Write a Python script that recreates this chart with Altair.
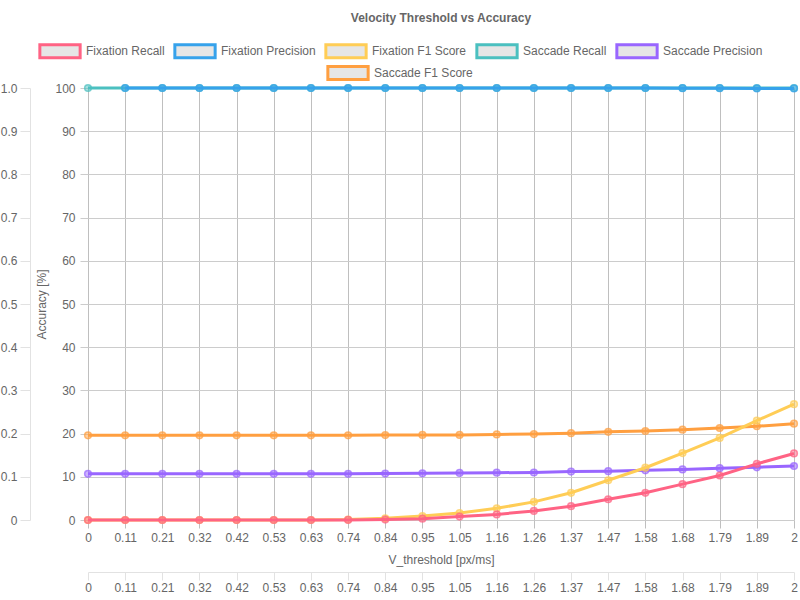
import altair as alt
import pandas as pd

x_labels = ["0", "0.11", "0.21", "0.32", "0.42", "0.53", "0.63", "0.74", "0.84", "0.95",
            "1.05", "1.16", "1.26", "1.37", "1.47", "1.58", "1.68", "1.79", "1.89", "2"]

series_names = ["Fixation Recall", "Fixation Precision", "Fixation F1 Score",
                "Saccade Recall", "Saccade Precision", "Saccade F1 Score"]
colors = ["#ff6384", "#36a2eb", "#ffcd56", "#4bc0c0", "#9966ff", "#ff9f40"]

fix_recall = [0, 0, 0, 0, 0, 0, 0, 0.02, 0.1, 0.3, 0.8, 1.3, 2.1, 3.2, 4.8, 6.3, 8.3, 10.3, 13.0, 15.4]
fix_precision = [None, 100, 100, 100, 100, 100, 100, 100, 100, 100, 100, 100, 100, 100, 100, 100, 99.95, 99.95, 99.9, 99.9]
fix_f1 = [0, 0, 0, 0, 0, 0, 0, 0.1, 0.4, 0.9, 1.6, 2.7, 4.2, 6.3, 9.2, 12.1, 15.5, 19.0, 23.0, 26.8]
sac_recall = [100] * 20
sac_precision = [10.7, 10.7, 10.7, 10.7, 10.7, 10.7, 10.7, 10.7, 10.75, 10.8, 10.9, 10.95, 11.0, 11.2, 11.3, 11.5, 11.7, 12.0, 12.2, 12.5]
sac_f1 = [19.6, 19.6, 19.6, 19.6, 19.6, 19.6, 19.6, 19.6, 19.65, 19.7, 19.7, 19.8, 19.9, 20.1, 20.4, 20.6, 20.9, 21.3, 21.7, 22.3]

left_ticks = [0, 0.1, 0.2, 0.3, 0.4, 0.5, 0.6, 0.7, 0.8, 0.9, 1.0]
main_ticks = [0, 10, 20, 30, 40, 50, 60, 70, 80, 90, 100]

all_series = [fix_recall, fix_precision, fix_f1, sac_recall, sac_precision, sac_f1]
rows = []
for name, vals in zip(series_names, all_series):
    for xl, v in zip(x_labels, vals):
        if v is not None:
            rows.append({"x": xl, "series": name, "value": v})
df = pd.DataFrame(rows)

FONT = "Liberation Sans"
GRID_V = "#bfbfbf"
GRID_H = "#cccccc"
LIGHT = "#e2e2e2"
TEXT = "#666666"
BOX = "M-3.1,-1H3.1V1H-3.1Z"

x_scale = alt.Scale(type="point", padding=0)
x_main = alt.X("x:O", sort=x_labels, scale=x_scale,
               axis=alt.Axis(orient="bottom", title="V_threshold [px/ms]", labelAngle=0,
                             grid=True, gridColor=GRID_V, domain=False, tickColor=GRID_V,
                             tickSize=8, labelPadding=4, titlePadding=11))
y_main = alt.Y("value:Q", scale=alt.Scale(domain=[0, 100], nice=False),
               axis=alt.Axis(orient="left", values=main_ticks, title="Accuracy [%]",
                             grid=True, gridColor=GRID_H, domain=False, tickColor=GRID_H,
                             tickSize=8, labelPadding=5, titlePadding=6))

legend_common = dict(symbolType=BOX, symbolSize=169, symbolStrokeWidth=3,
                     symbolFillColor="#e6e6e6", symbolOpacity=1, title=None,
                     direction="horizontal", orient="none", labelOffset=18,
                     columnPadding=3, symbolOffset=14)

color_enc = alt.Color("series:N", scale=alt.Scale(domain=series_names[:5], range=colors[:5]),
                      legend=alt.Legend(legendX=-50, legendY=-45, **legend_common))
stroke_enc = alt.Stroke("series:N", scale=alt.Scale(domain=series_names[5:], range=colors[5:]),
                        legend=alt.Legend(legendX=238, legendY=-23, **legend_common))

base = alt.Chart(df)
layers = []
for idx in [5, 4, 3, 2, 1, 0]:
    name = series_names[idx]
    col = colors[idx]
    b = base.transform_filter(alt.datum.series == name)
    if idx == 5:
        line = b.mark_line(strokeWidth=3).encode(x=x_main, y=y_main, stroke=stroke_enc)
    else:
        line = b.mark_line(strokeWidth=3).encode(x=x_main, y=y_main, color=color_enc)
    dots = b.mark_circle(size=45, opacity=0.5, color=col).encode(x=x_main, y=y_main)
    rings = b.mark_point(size=45, strokeWidth=1.5, filled=False, color=col).encode(x=x_main, y=y_main)
    layers += [line, dots, rings]

inner = alt.layer(*layers)

sec_df = pd.DataFrame({"x": x_labels, "v": [0] * len(x_labels)})
sec = alt.Chart(sec_df).mark_point(opacity=0).encode(
    x=alt.X("x:O", sort=x_labels, scale=x_scale,
            axis=alt.Axis(orient="bottom", offset=52, title=None, labelAngle=0, grid=False,
                          domainColor=LIGHT, tickColor=LIGHT, tickSize=8, labelPadding=2)),
    y=alt.Y("v:Q", scale=alt.Scale(domain=[0, 1], nice=False),
            axis=alt.Axis(orient="left", offset=58, values=left_ticks, title=None, grid=False,
                          domainColor=LIGHT, tickColor=LIGHT, tickSize=10, labelPadding=3,
                          labelExpr="datum.value == 0 ? '0' : format(datum.value, '.1f')")),
)

chart = alt.layer(inner, sec).resolve_scale(y="independent").resolve_axis(
    x="independent", y="independent"
).properties(
    width=706, height=432,
    title=alt.TitleParams("Velocity Threshold vs Accuracy", font=FONT, fontSize=12,
                          fontWeight="bold", color=TEXT, anchor="middle", offset=18),
    autosize=alt.AutoSizeParams(type="none"),
    padding={"left": 88, "top": 88, "right": 6, "bottom": 80},
).configure_view(stroke=None).configure_axis(
    labelFont=FONT, labelFontSize=12, labelColor=TEXT, titleFont=FONT, titleFontSize=12,
    titleColor=TEXT, titleFontWeight="normal"
).configure_legend(
    labelFont=FONT, labelFontSize=12, labelColor=TEXT, padding=0,
)

chart.save("out.html", embed_options={"renderer": "svg", "actions": False})
